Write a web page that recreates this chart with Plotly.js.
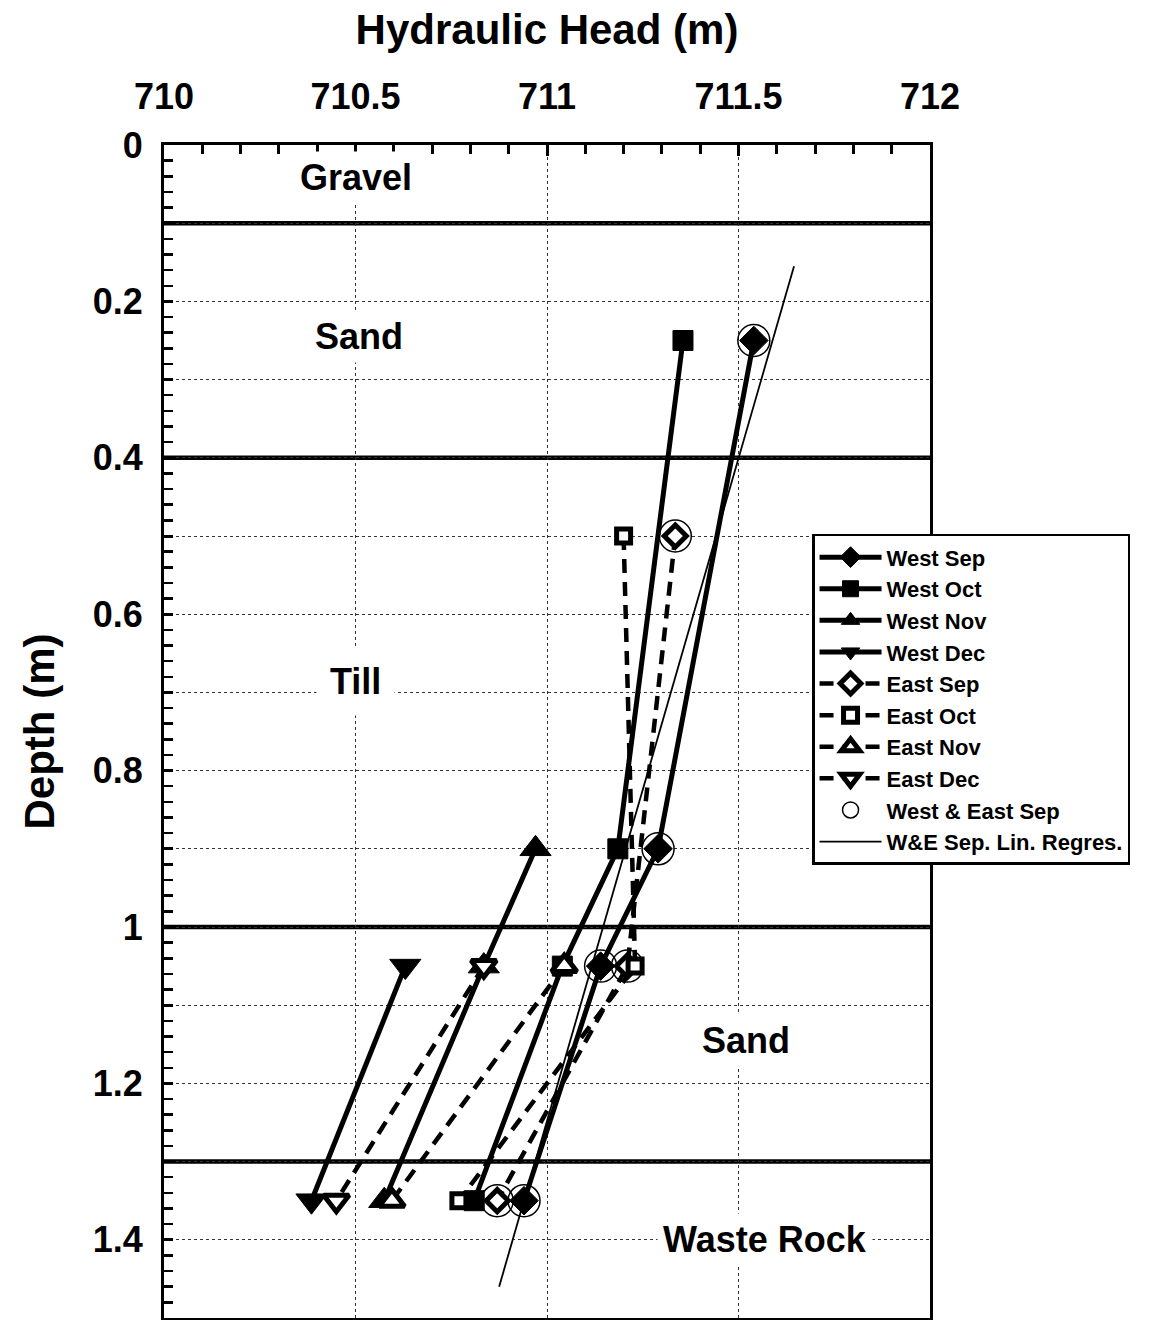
<!DOCTYPE html>
<html>
<head>
<meta charset="utf-8">
<script src="https://cdn.plot.ly/plotly-3.0.1.min.js"></script>
<style>
  html, body { margin: 0; padding: 0; background: #fff; }
  #chart { width: 1155px; height: 1320px; }
</style>
</head>
<body>
<div id="chart"></div>
<script>
// ---- Data ----
var westSepDepth = [0.25, 0.9, 1.05, 1.35];
var westSepHead  = [711.54, 711.29, 711.14, 710.94];
var westOctDepth = [0.25, 0.9, 1.05, 1.35];
var westOctHead  = [711.355, 711.185, 711.04, 710.81];
var westNovDepth = [0.9, 1.05, 1.35];
var westNovHead  = [710.97, 710.835, 710.575];
var westDecDepth = [1.05, 1.35];
var westDecHead  = [710.63, 710.385];

var eastSepDepth = [0.5, 1.05, 1.35];
var eastSepHead  = [711.335, 711.21, 710.87];
var eastOctDepth = [0.5, 1.05, 1.35];
var eastOctHead  = [711.2, 711.23, 710.77];
var eastNovDepth = [1.05, 1.35];
var eastNovHead  = [711.045, 710.595];
var eastDecDepth = [1.05, 1.35];
var eastDecHead  = [710.835, 710.45];

// W&E Sep linear regression line end points
var regHead  = [711.645, 710.875];
var regDepth = [0.155, 1.46];

// Layer boundaries and layer labels
var layerBounds = [0.1, 0.4, 1.0, 1.3];
var layerNames  = ['Gravel', 'Sand', 'Till', 'Sand', 'Waste Rock'];
var layerLabelHead  = [710.5, 710.51, 710.5, 711.52, 711.57];
var layerLabelDepth = [0.042, 0.245, 0.686, 1.145, 1.4];

// Tick labels
var xTickVals   = [710, 710.5, 711, 711.5, 712];
var xTickLabels = ['710', '710.5', '711', '711.5', '712'];
var yGridVals   = [0, 0.1, 0.2, 0.3, 0.4, 0.5, 0.6, 0.7, 0.8, 0.9, 1.0, 1.1, 1.2, 1.3, 1.4, 1.5];
var yTickLabels = ['0', '', '0.2', '', '0.4', '', '0.6', '', '0.8', '', '1', '', '1.2', '', '1.4', ''];

// ---- Styling ----
var FONT = 'Liberation Sans, Arial, Helvetica, sans-serif';
var BLACK = '#000';
var solid = {color: BLACK, width: 5};
var dashed = {color: BLACK, width: 4.5, dash: '14px,9px'};

function filled(sym, size) {
  return {symbol: sym, size: size, color: BLACK, line: {color: BLACK, width: 1}};
}
function open(sym, size) {
  return {symbol: sym, size: size, color: '#fff', line: {color: BLACK, width: 5}};
}

var traces = [
  {name: 'West Sep', x: westSepHead, y: westSepDepth, mode: 'lines+markers', line: solid, marker: filled('diamond', 22)},
  {name: 'West Oct', x: westOctHead, y: westOctDepth, mode: 'lines+markers', line: solid, marker: filled('square', 20)},
  {name: 'West Nov', x: westNovHead, y: westNovDepth, mode: 'lines+markers', line: solid, marker: filled('triangle-up', 27)},
  {name: 'West Dec', x: westDecHead, y: westDecDepth, mode: 'lines+markers', line: solid, marker: filled('triangle-down', 27)},
  {name: 'East Sep', x: eastSepHead, y: eastSepDepth, mode: 'lines+markers', line: dashed, marker: open('diamond', 17)},
  {name: 'East Oct', x: eastOctHead, y: eastOctDepth, mode: 'lines+markers', line: dashed, marker: open('square', 14)},
  {name: 'East Nov', x: eastNovHead, y: eastNovDepth, mode: 'lines+markers', line: dashed, marker: open('triangle-up', 22)},
  {name: 'East Dec', x: eastDecHead, y: eastDecDepth, mode: 'lines+markers', line: dashed, marker: open('triangle-down', 22)},
  {name: 'West & East Sep', x: westSepHead.concat(eastSepHead), y: westSepDepth.concat(eastSepDepth), mode: 'markers',
   marker: {symbol: 'circle-open', size: 32, color: BLACK, line: {color: BLACK, width: 1.5}}},
  {name: 'W&E Sep. Lin. Regres.', x: regHead, y: regDepth, mode: 'lines', line: {color: BLACK, width: 1.8}}
];

var shapes = layerBounds.map(function (d) {
  return {type: 'line', xref: 'paper', x0: 0, x1: 1, yref: 'y', y0: d, y1: d,
          line: {color: BLACK, width: 4.5}, layer: 'below'};
});

var annotations = layerNames.map(function (name, i) {
  return {text: name, x: layerLabelHead[i], y: layerLabelDepth[i], xref: 'x', yref: 'y',
          showarrow: false, bgcolor: '#fff', borderpad: (name === 'Till' ? 13 : 5),
          font: {family: FONT, size: 36, weight: 700, color: BLACK}};
});

var layout = {
  width: 1155, height: 1320,
  margin: {l: 164, r: 225, t: 145, b: 2},
  paper_bgcolor: '#fff', plot_bgcolor: '#fff',
  showlegend: true,
  font: {family: FONT, color: BLACK, weight: 700},
  xaxis: {
    side: 'top', range: [710, 712],
    tickmode: 'array', tickvals: xTickVals, ticktext: xTickLabels,
    ticks: 'inside', ticklen: 11, tickwidth: 3, tickcolor: BLACK,
    tickfont: {family: FONT, size: 36, weight: 700, color: BLACK},
    ticklabelstandoff: 19,
    showgrid: true, gridcolor: '#333', gridwidth: 1, griddash: 'dot',
    minor: {tickmode: 'linear', tick0: 710, dtick: 0.1, ticks: 'inside', ticklen: 9, tickwidth: 3, tickcolor: BLACK, showgrid: false},
    showline: true, linecolor: BLACK, linewidth: 3, mirror: true,
    zeroline: false,
    title: {text: 'Hydraulic Head (m)', font: {family: FONT, size: 42, weight: 700, color: BLACK}, standoff: 18}
  },
  yaxis: {
    range: [1.5, 0],
    tickmode: 'array', tickvals: yGridVals, ticktext: yTickLabels,
    ticks: 'inside', ticklen: 9, tickwidth: 3, tickcolor: BLACK,
    tickfont: {family: FONT, size: 36, weight: 700, color: BLACK},
    ticklabelstandoff: 11,
    showgrid: true, gridcolor: '#333', gridwidth: 1, griddash: 'dot',
    minor: {tickmode: 'linear', tick0: 0, dtick: 0.02, ticks: 'inside', ticklen: 9, tickwidth: 2.5, tickcolor: BLACK, showgrid: false},
    showline: true, linecolor: BLACK, linewidth: 3, mirror: true,
    zeroline: false,
    title: {text: 'Depth (m)', font: {family: FONT, size: 42, weight: 700, color: BLACK}, standoff: 26}
  },
  legend: {
    x: 0.846, y: 0.6685, xanchor: 'left', yanchor: 'top',
    xref: 'paper', yref: 'paper',
    bgcolor: '#fff', bordercolor: BLACK, borderwidth: 2.5,
    font: {family: FONT, size: 22, weight: 700, color: BLACK},
    tracegroupgap: 0, itemwidth: 62,
    entrywidth: 262, entrywidthmode: 'pixels'
  },
  shapes: shapes,
  annotations: annotations
};

Plotly.newPlot('chart', traces, layout, {displayModeBar: false, staticPlot: true});
</script>
</body>
</html>
